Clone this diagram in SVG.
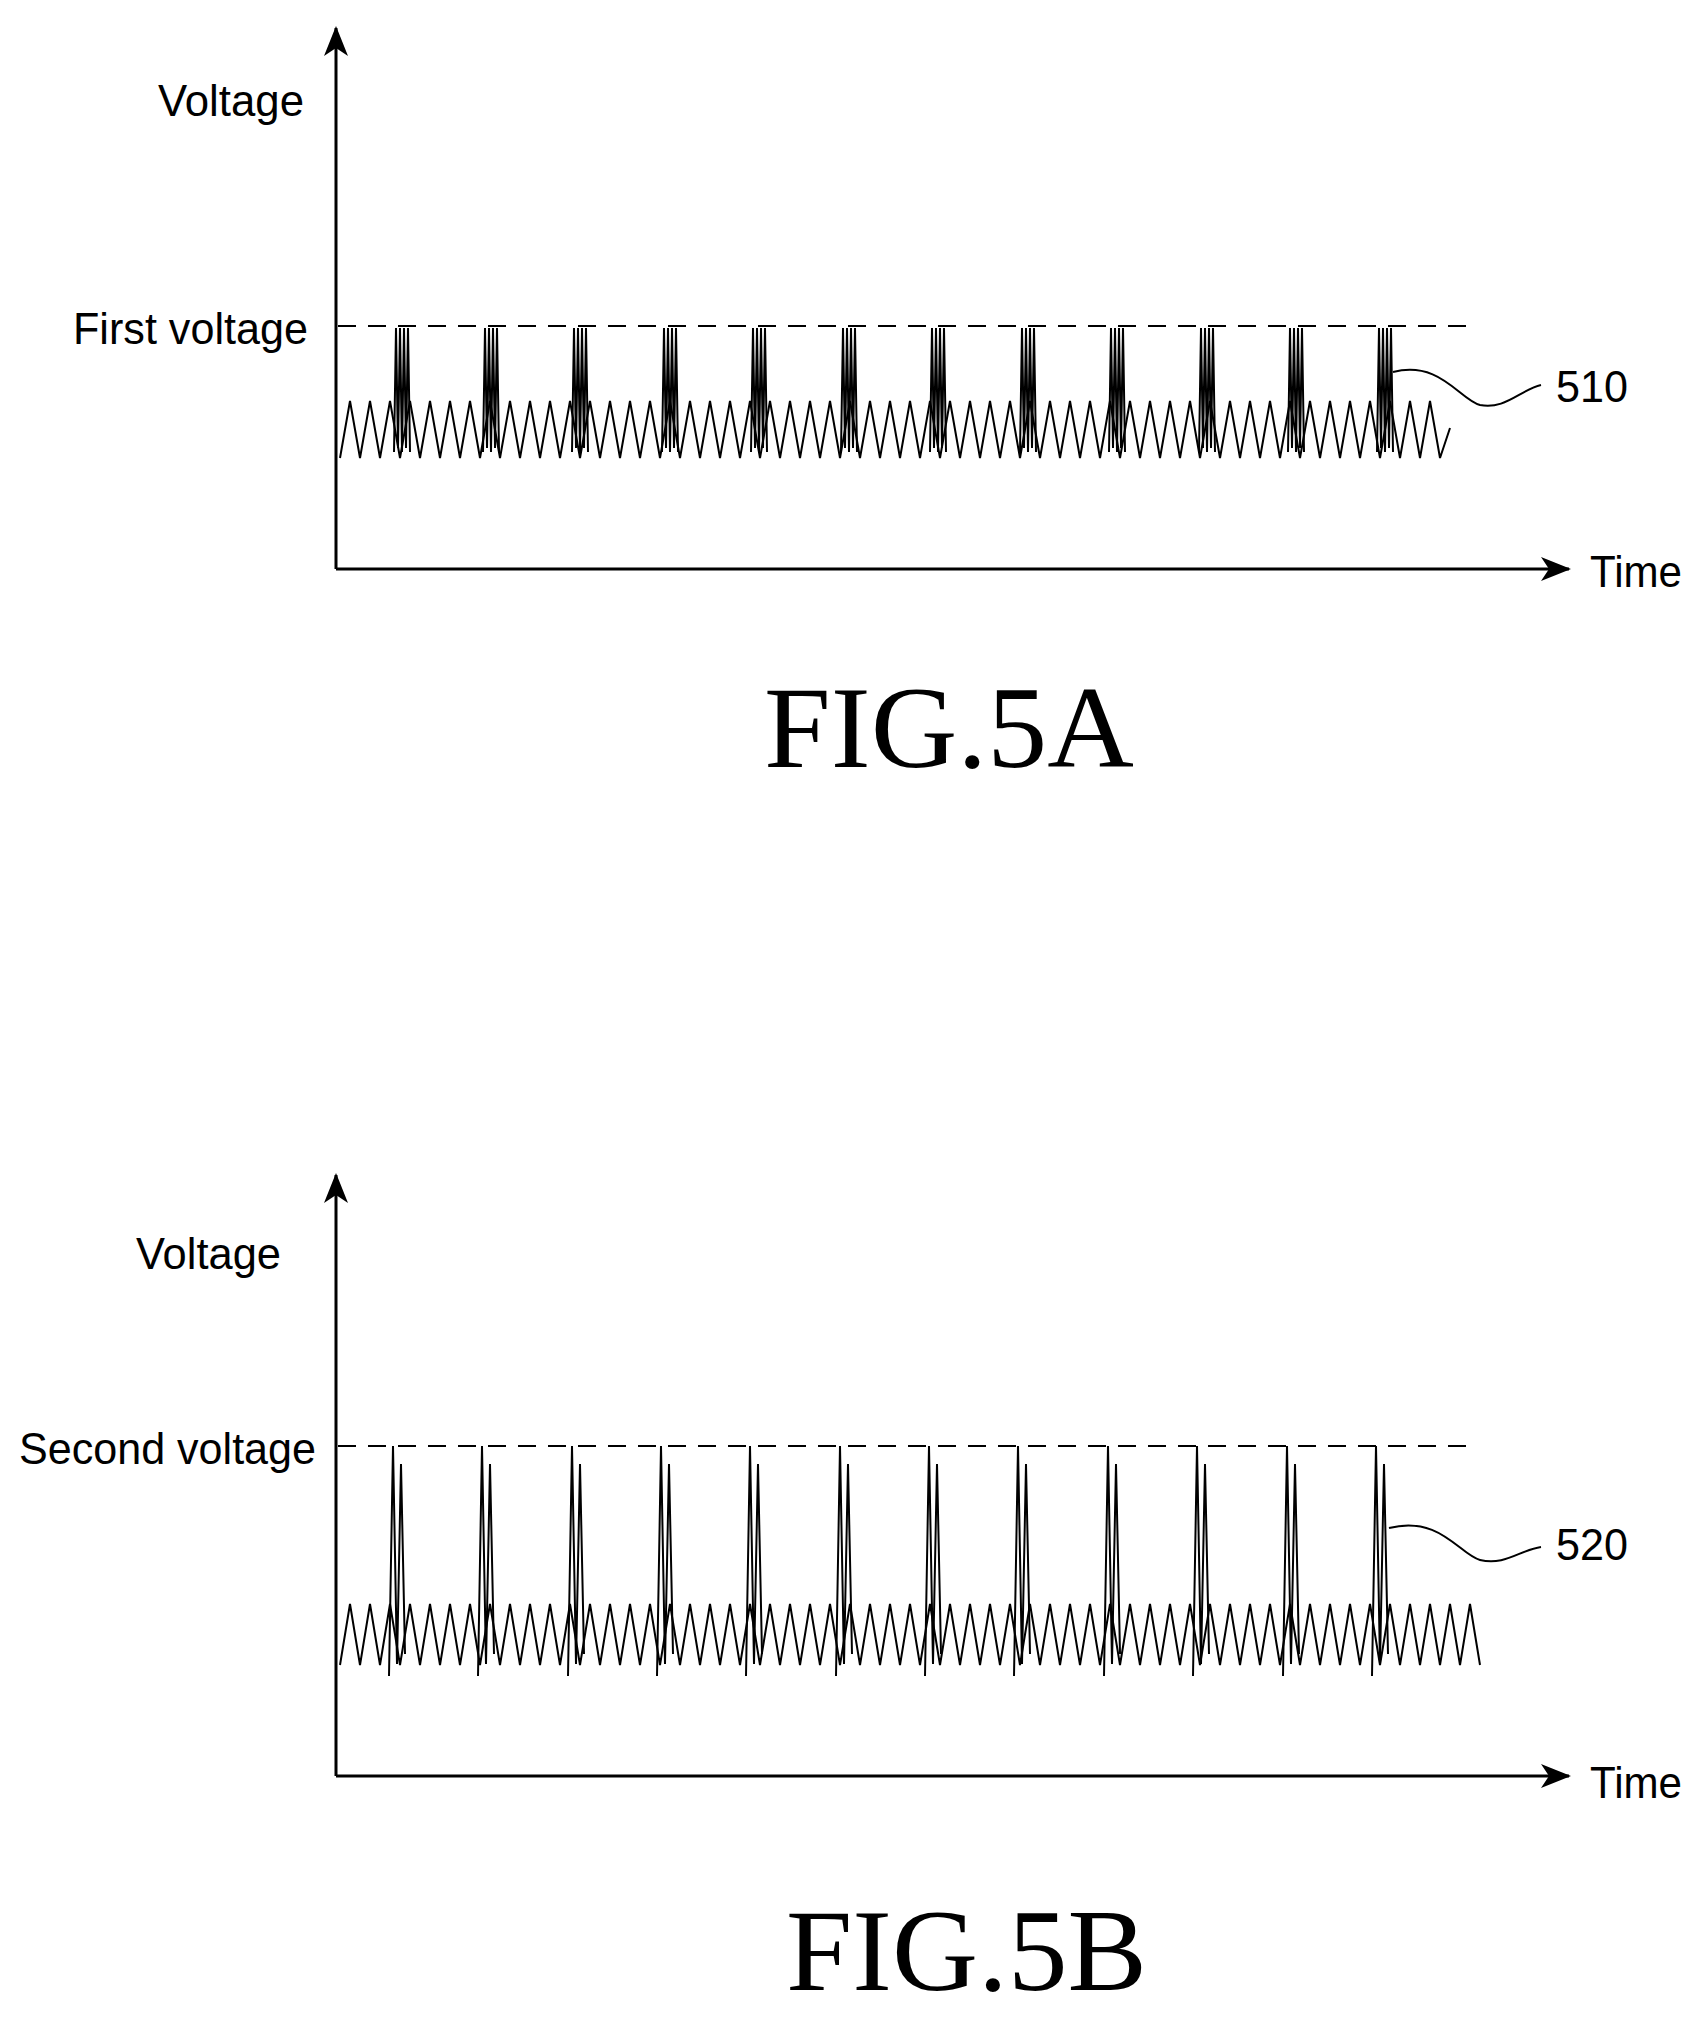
<svg xmlns="http://www.w3.org/2000/svg" width="1708" height="2019" viewBox="0 0 1708 2019">
<style>
.ax{stroke:#000;stroke-width:3;fill:none}
.dash{stroke:#000;stroke-width:2;stroke-dasharray:18,12;fill:none}
.w{stroke:#000;stroke-width:2;fill:none;stroke-linejoin:miter}
.lb{font-family:"Liberation Sans",Arial,sans-serif;font-size:44px;fill:#000}
.fig{font-family:"Liberation Serif","Times New Roman",serif;font-size:116px;fill:#000}
</style>
<defs>
<marker id="ahb" markerWidth="30" markerHeight="30" refX="28" refY="15" orient="auto" markerUnits="userSpaceOnUse" viewBox="0 0 30 30"><path d="M0,3 L30,15 L0,27 L8,15 Z" fill="#000"/></marker>
</defs>
<rect width="1708" height="2019" fill="#fff"/>
<g id="figA">
<g id="connectors-a">
<path class="ax" d="M336,569 V28" marker-end="url(#ahb)"/>
<path class="ax" d="M336,569 H1569" marker-end="url(#ahb)"/>
<path class="dash" d="M338,326 H1468"/>
<path class="w" d="M1393,372 C1440,360 1460,400 1480,405 C1505,410 1520,390 1541,385"/>
</g>
<path id="wave510" class="w" d="M340,458 l10,-57 10,57 10,-57 10,57 10,-57 10,57 10,-57 10,57 10,-57 10,57 10,-57 10,57 10,-57 10,57 10,-57 10,57 10,-57 10,57 10,-57 10,57 10,-57 10,57 10,-57 10,57 10,-57 10,57 10,-57 10,57 10,-57 10,57 10,-57 10,57 10,-57 10,57 10,-57 10,57 10,-57 10,57 10,-57 10,57 10,-57 10,57 10,-57 10,57 10,-57 10,57 10,-57 10,57 10,-57 10,57 10,-57 10,57 10,-57 10,57 10,-57 10,57 10,-57 10,57 10,-57 10,57 10,-57 10,57 10,-57 10,57 10,-57 10,57 10,-57 10,57 10,-57 10,57 10,-57 10,57 10,-57 10,57 10,-57 10,57 10,-57 10,57 10,-57 10,57 10,-57 10,57 10,-57 10,57 10,-57 10,57 10,-57 10,57 10,-57 10,57 10,-57 10,57 10,-57 10,57 10,-57 10,57 10,-57 10,57 10,-57 10,57 10,-57 10,57 10,-57 10,57 10,-57 10,57 10,-57 10,57 10,-57 10,57 10,-30"/>
<g id="spikes510" class="w">
<path d="M394,452 l2,-124 2,120 2,-120 2,124 2,-124 2,120 2,-120 2,124"/>
<path d="M483,452 l2,-124 2,120 2,-120 2,124 2,-124 2,120 2,-120 2,124"/>
<path d="M572,452 l2,-124 2,120 2,-120 2,124 2,-124 2,120 2,-120 2,124"/>
<path d="M662,452 l2,-124 2,120 2,-120 2,124 2,-124 2,120 2,-120 2,124"/>
<path d="M751,452 l2,-124 2,120 2,-120 2,124 2,-124 2,120 2,-120 2,124"/>
<path d="M841,452 l2,-124 2,120 2,-120 2,124 2,-124 2,120 2,-120 2,124"/>
<path d="M930,452 l2,-124 2,120 2,-120 2,124 2,-124 2,120 2,-120 2,124"/>
<path d="M1020,452 l2,-124 2,120 2,-120 2,124 2,-124 2,120 2,-120 2,124"/>
<path d="M1109,452 l2,-124 2,120 2,-120 2,124 2,-124 2,120 2,-120 2,124"/>
<path d="M1199,452 l2,-124 2,120 2,-120 2,124 2,-124 2,120 2,-120 2,124"/>
<path d="M1288,452 l2,-124 2,120 2,-120 2,124 2,-124 2,120 2,-120 2,124"/>
<path d="M1377,452 l2,-124 2,120 2,-120 2,124 2,-124 2,120 2,-120 2,124"/>
</g>
<text class="lb" x="158" y="116" textLength="146" lengthAdjust="spacingAndGlyphs">Voltage</text>
<text class="lb" x="73" y="344" textLength="235" lengthAdjust="spacingAndGlyphs">First voltage</text>
<text class="lb" x="1556" y="402" textLength="72" lengthAdjust="spacingAndGlyphs">510</text>
<text class="lb" x="1590" y="587" textLength="92" lengthAdjust="spacingAndGlyphs">Time</text>
<text class="fig" x="764" y="767" textLength="370" lengthAdjust="spacingAndGlyphs">FIG.5A</text>
</g>
<g id="figB">
<g id="connectors-b">
<path class="ax" d="M336,1776 V1175" marker-end="url(#ahb)"/>
<path class="ax" d="M336,1776 H1569" marker-end="url(#ahb)"/>
<path class="dash" d="M338,1446 H1468"/>
<path class="w" d="M1389,1528 C1440,1515 1460,1555 1480,1560 C1505,1566 1520,1550 1541,1547"/>
</g>
<path id="wave520" class="w" d="M340,1665 l10,-61 10,61 10,-61 10,61 10,-61 10,61 10,-61 10,61 10,-61 10,61 10,-61 10,61 10,-61 10,61 10,-61 10,61 10,-61 10,61 10,-61 10,61 10,-61 10,61 10,-61 10,61 10,-61 10,61 10,-61 10,61 10,-61 10,61 10,-61 10,61 10,-61 10,61 10,-61 10,61 10,-61 10,61 10,-61 10,61 10,-61 10,61 10,-61 10,61 10,-61 10,61 10,-61 10,61 10,-61 10,61 10,-61 10,61 10,-61 10,61 10,-61 10,61 10,-61 10,61 10,-61 10,61 10,-61 10,61 10,-61 10,61 10,-61 10,61 10,-61 10,61 10,-61 10,61 10,-61 10,61 10,-61 10,61 10,-61 10,61 10,-61 10,61 10,-61 10,61 10,-61 10,61 10,-61 10,61 10,-61 10,61 10,-61 10,61 10,-61 10,61 10,-61 10,61 10,-61 10,61 10,-61 10,61 10,-61 10,61 10,-61 10,61 10,-61 10,61 10,-61 10,61 10,-61 10,61 10,-61 10,61 10,-61 10,61 10,-61 10,61 10,-61 10,61"/>
<g id="spikes520" class="w">
<path d="M389,1676 l4,-230 4,218 4,-200 4,190"/>
<path d="M478,1676 l4,-230 4,218 4,-200 4,190"/>
<path d="M568,1676 l4,-230 4,218 4,-200 4,190"/>
<path d="M657,1676 l4,-230 4,218 4,-200 4,190"/>
<path d="M746,1676 l4,-230 4,218 4,-200 4,190"/>
<path d="M836,1676 l4,-230 4,218 4,-200 4,190"/>
<path d="M925,1676 l4,-230 4,218 4,-200 4,190"/>
<path d="M1014,1676 l4,-230 4,218 4,-200 4,190"/>
<path d="M1104,1676 l4,-230 4,218 4,-200 4,190"/>
<path d="M1193,1676 l4,-230 4,218 4,-200 4,190"/>
<path d="M1283,1676 l4,-230 4,218 4,-200 4,190"/>
<path d="M1372,1676 l4,-230 4,218 4,-200 4,190"/>
</g>
<text class="lb" x="136" y="1269" textLength="145" lengthAdjust="spacingAndGlyphs">Voltage</text>
<text class="lb" x="19" y="1464" textLength="297" lengthAdjust="spacingAndGlyphs">Second voltage</text>
<text class="lb" x="1556" y="1560" textLength="72" lengthAdjust="spacingAndGlyphs">520</text>
<text class="lb" x="1590" y="1798" textLength="92" lengthAdjust="spacingAndGlyphs">Time</text>
<text class="fig" x="786" y="1990" textLength="361" lengthAdjust="spacingAndGlyphs">FIG.5B</text>
</g>
</svg>
